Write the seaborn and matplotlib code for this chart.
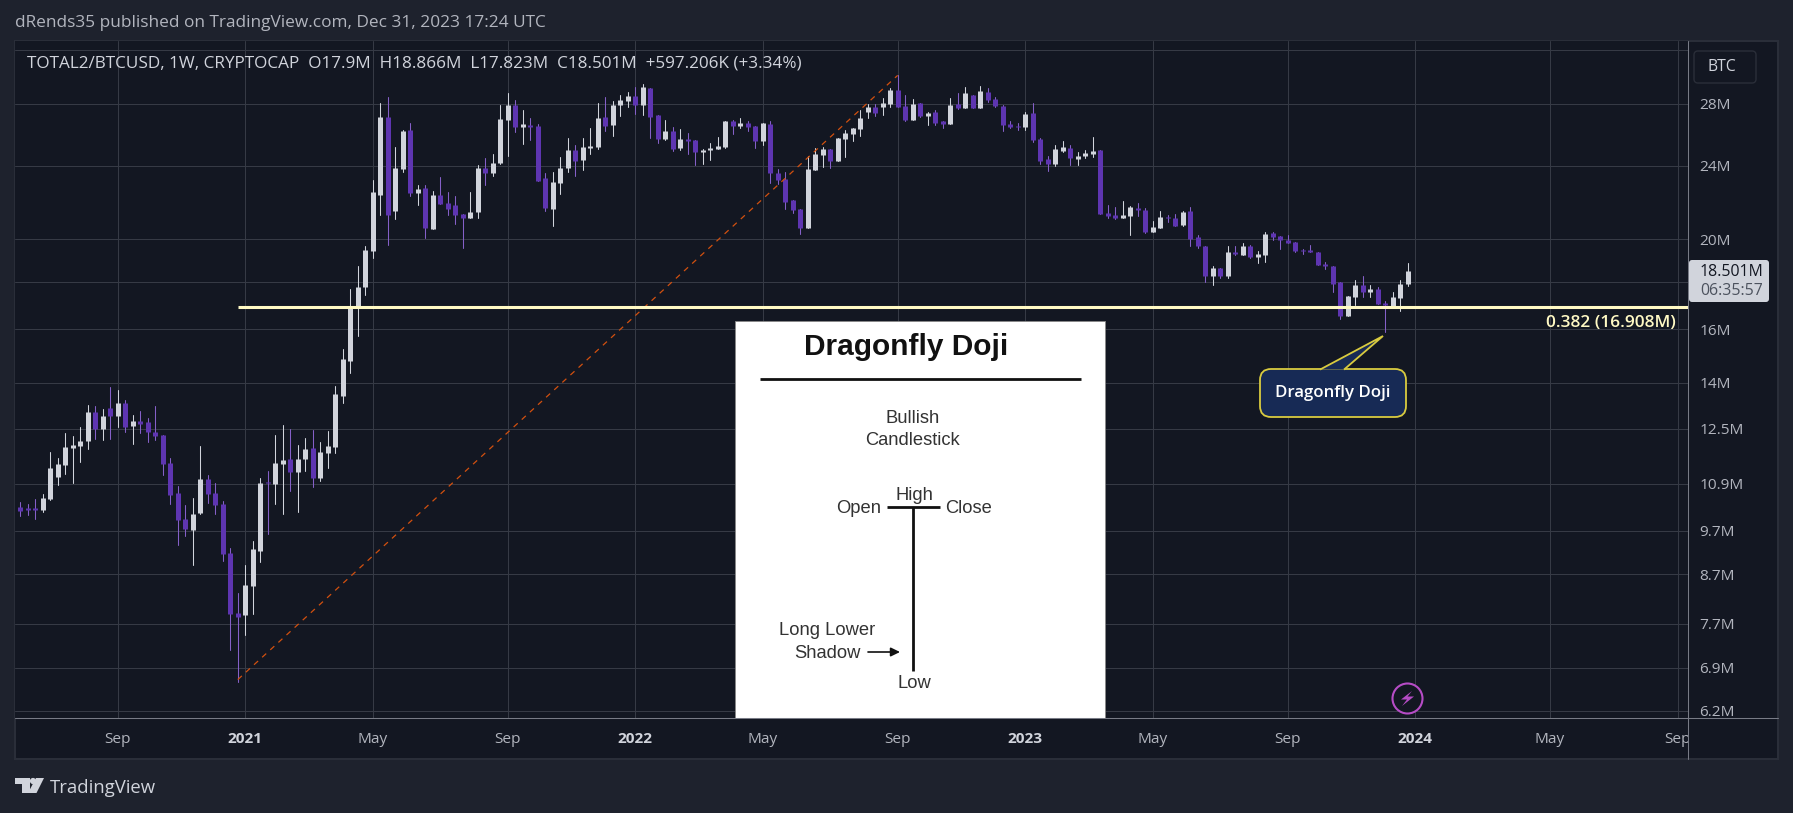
import numpy as np
import pandas as pd
import seaborn as sns
import matplotlib
matplotlib.use("Agg")
import matplotlib.pyplot as plt
from matplotlib.patches import Rectangle, FancyBboxPatch, Polygon, Circle
from matplotlib.ticker import NullLocator, NullFormatter

# ---------- data (millions of BTC, weekly candles) ----------
first_week = "2020-06-08"
opens = [
10.28,10.26,10.26,10.21,10.49,11.08,11.41,11.90,11.96,12.11,
13.01,12.48,13.17,12.89,13.31,12.57,12.73,12.70,12.39,12.30,
11.47,10.65,9.98,9.72,10.13,11.02,10.65,10.36,9.18,7.91,
7.87,8.45,9.22,10.94,10.88,11.44,11.58,11.22,11.58,11.90,
11.05,11.75,11.93,13.54,14.80,16.93,17.75,19.45,22.35,27.12,
21.48,23.84,26.26,22.46,22.74,20.54,22.35,21.91,21.80,21.32,
21.11,21.43,23.89,23.60,24.19,26.92,27.93,26.45,26.59,26.52,
23.31,21.58,23.03,23.89,24.99,24.38,25.12,25.18,27.12,26.59,
27.93,28.21,28.56,27.93,29.13,27.25,25.69,26.20,25.12,25.69,
25.62,24.87,24.99,25.05,25.18,26.85,26.52,26.72,26.52,25.56,
26.65,23.60,23.26,22.08,21.58,20.59,23.78,24.69,25.05,24.32,
25.69,26.00,26.32,27.45,27.79,27.79,28.00,28.99,27.86,26.92,
28.07,27.18,27.45,26.85,26.65,28.00,27.72,28.63,27.72,28.84,
28.35,27.86,26.65,26.52,26.45,27.38,25.69,24.44,24.13,24.93,
25.12,24.44,24.63,24.75,24.99,21.37,21.27,21.11,21.22,21.64,
21.53,20.39,20.59,21.16,21.11,20.75,21.48,20.14,19.69,18.24,
18.61,18.28,19.36,19.26,19.69,19.16,19.26,20.34,20.19,19.99,
19.89,19.50,19.50,19.40,18.83,18.74,17.97,16.55,17.35,17.84,
17.57,17.70,17.09,16.97,17.31,17.90]
highs = [
10.41,10.36,10.49,10.62,11.78,11.61,12.36,12.26,12.54,13.24,
13.21,13.11,13.85,13.75,13.41,12.92,13.05,12.82,13.21,12.30,
11.61,10.83,10.33,10.52,11.96,11.13,10.91,10.44,9.29,8.31,
8.91,9.45,11.05,11.24,12.30,12.60,12.48,11.99,12.20,12.45,
12.08,12.42,13.88,15.25,17.70,18.70,19.69,23.20,28.07,28.49,
25.18,26.26,26.72,22.91,22.91,22.57,23.37,22.52,22.30,21.32,
22.52,24.08,24.50,24.75,27.93,28.77,28.28,27.59,27.05,26.65,
23.60,23.66,24.56,25.75,25.31,25.75,26.39,28.07,28.49,28.21,
28.63,28.84,29.20,29.41,29.13,27.25,26.92,26.45,26.32,26.07,
25.62,25.05,25.43,25.81,26.85,26.92,27.05,26.85,26.52,26.72,
26.85,23.84,23.66,22.08,21.58,24.63,25.12,25.18,25.05,25.75,
26.26,26.39,27.59,28.00,28.00,28.42,29.13,30.06,28.63,28.35,
28.07,27.45,27.59,26.85,28.42,28.77,29.20,28.63,29.27,29.13,
28.49,27.93,26.85,26.72,27.45,28.07,25.75,24.63,25.31,25.56,
25.31,24.87,24.99,25.81,24.99,21.80,21.69,22.02,21.75,21.91,
21.64,20.96,21.48,21.27,21.32,21.48,21.69,20.24,19.69,18.74,
18.61,19.65,19.69,19.84,19.74,19.45,20.39,20.39,20.19,20.24,
19.89,19.55,19.74,19.40,18.93,18.74,17.97,17.39,18.06,18.28,
17.84,17.79,17.18,17.53,18.10,18.866]
lows = [
10.05,10.08,9.98,10.15,10.46,10.86,11.16,10.91,11.50,11.87,
12.17,12.14,12.17,12.54,12.39,12.02,12.36,12.08,12.14,11.13,
10.36,9.36,9.57,8.91,10.10,10.39,10.10,9.00,7.21,6.66,
7.49,7.89,8.97,9.62,10.36,10.10,10.70,10.15,11.24,10.80,
10.97,11.33,11.75,13.31,14.34,15.72,17.44,19.11,21.27,19.74,
21.06,23.66,22.30,21.80,20.09,20.54,21.86,21.27,20.80,19.60,
21.11,21.11,22.91,23.43,24.13,24.63,26.13,25.37,25.62,23.14,
21.48,20.70,22.41,23.66,23.43,23.78,24.75,25.05,26.20,25.87,
27.18,27.79,27.32,27.25,25.75,25.43,25.62,24.93,24.99,24.75,
24.08,24.13,24.38,25.05,25.12,26.00,26.39,26.20,25.12,25.31,
23.03,22.97,21.58,21.37,20.29,20.59,23.78,23.95,23.89,24.32,
24.56,25.56,25.87,27.05,27.18,27.25,27.79,27.79,26.85,26.92,
27.12,26.59,26.59,26.39,26.65,27.65,27.72,27.72,27.72,28.14,
27.79,26.20,26.39,26.26,26.26,25.50,24.13,23.72,24.00,24.87,
24.08,24.08,24.50,24.56,21.32,21.11,21.06,21.11,20.24,21.22,
20.34,20.39,20.59,20.90,20.70,20.70,19.69,19.60,18.01,17.84,
18.19,18.19,19.26,19.26,19.11,18.88,18.93,19.99,19.55,19.84,
19.40,19.31,19.36,18.79,18.56,17.53,16.43,16.55,17.01,17.35,
17.35,17.05,15.87,16.97,16.72,17.823]
closes = [
10.18,10.21,10.21,10.52,11.33,11.44,11.93,11.99,12.11,13.01,
12.48,12.89,12.89,13.31,12.54,12.73,12.63,12.39,12.26,11.44,
10.59,9.96,9.74,10.10,11.02,10.62,10.33,9.15,7.89,7.83,
8.47,9.27,10.91,10.91,11.47,11.55,11.22,11.58,11.87,11.05,
11.78,11.96,13.61,14.84,16.97,17.79,19.50,22.52,27.12,21.27,
23.89,26.20,22.46,22.69,20.59,22.35,21.86,21.58,21.27,21.11,
21.43,23.89,23.60,24.19,26.99,27.93,26.45,26.65,26.45,23.14,
21.64,23.08,23.89,24.99,24.32,25.18,25.24,27.05,26.52,27.93,
28.28,28.56,27.93,29.20,27.12,25.69,26.20,25.05,25.69,25.56,
24.87,24.99,25.12,25.24,26.85,26.52,26.72,26.45,25.56,26.72,
23.60,23.20,21.97,21.53,20.59,23.84,24.75,25.05,24.32,25.75,
26.07,26.39,27.05,27.79,27.38,28.07,28.99,27.79,26.92,28.00,
27.18,27.38,26.72,26.65,27.93,27.72,28.77,27.72,28.91,28.28,
27.86,26.59,26.45,26.45,27.32,25.62,24.32,24.13,25.05,25.18,
24.50,24.63,24.81,24.93,21.32,21.22,21.11,21.27,21.69,21.53,
20.39,20.64,21.16,21.11,20.70,21.43,20.04,19.65,18.24,18.61,
18.28,19.36,19.31,19.69,19.16,19.31,20.29,20.14,19.99,19.84,
19.45,19.45,19.36,18.79,18.70,17.92,16.55,17.39,17.84,17.57,
17.70,17.05,17.01,17.35,17.92,18.501]

fib_level = 16.908
trend_dates = ["2020-12-28", "2022-09-05"]
trend_values = [6.70, 30.06]

price_ticks = [32, 28, 24, 20, 18, 16, 14, 12.5, 10.9, 9.7, 8.7, 7.7, 6.9, 6.2]
price_labels = ["", "28M", "24M", "20M", "", "16M", "14M", "12.5M", "10.9M", "9.7M", "8.7M", "7.7M", "6.9M", "6.2M"]
time_ticks = ["2020-09-07", "2021-01-04", "2021-05-03", "2021-09-06", "2022-01-03", "2022-05-02",
              "2022-09-05", "2023-01-02", "2023-05-01", "2023-09-04", "2024-01-01", "2024-05-06", "2024-09-02"]
time_labels = ["Sep", "2021", "May", "Sep", "2022", "May", "Sep", "2023", "May", "Sep", "2024", "May", "Sep"]

# ---------- style ----------
FRAME, PANE, EDGE, GRID, AXLINE = "#1e222d", "#131722", "#2a2e39", "#363a45", "#787b86"
UP, DOWN, DOWN_W = "#d1d4dc", "#5e35b1", "#8560c8"
FIB, TEXT, DIM = "#fff9c4", "#d1d4dc", "#b2b5be"
W, H = 1793, 813
FONT = "Open Sans"
sns.set_theme(style="dark", rc={"font.family": FONT, "figure.facecolor": FRAME, "axes.facecolor": PANE,
                                "axes.grid": True, "grid.color": GRID, "grid.linewidth": 0.75})

fig = plt.figure(figsize=(W / 100, H / 100), dpi=100, facecolor=FRAME)
def frac(l, t, r, b):
    return [l / W, 1 - b / H, (r - l) / W, (b - t) / H]

bg = fig.add_axes(frac(0, 0, W, H), zorder=0); bg.set_xlim(0, W); bg.set_ylim(H, 0); bg.axis("off")
bg.add_patch(Rectangle((15, 41), 1763, 718, fc=PANE, ec=EDGE, lw=1.5))

# ---------- candles ----------
ax = fig.add_axes(frac(15, 41, 1688, 718), zorder=1)
ax.set_yscale("log")
dates = pd.date_range(first_week, periods=len(opens), freq="7D")
df = pd.DataFrame({"date": dates, "open": opens, "high": highs, "low": lows, "close": closes})
df["dir"] = np.where(df["close"] >= df["open"], "up", "down")

wicks = df.melt(id_vars=["date", "dir"], value_vars=["low", "high"], value_name="price")
bodies = df.melt(id_vars=["date", "dir"], value_vars=["open", "close"], value_name="price")
sns.lineplot(data=wicks, x="date", y="price", hue="dir", units="date", estimator=None, sort=False,
             palette={"up": UP, "down": DOWN_W}, linewidth=0.75, legend=False, ax=ax)
sns.lineplot(data=bodies, x="date", y="price", hue="dir", units="date", estimator=None, sort=False,
             palette={"up": UP, "down": DOWN}, linewidth=3.6, solid_capstyle="butt", legend=False, ax=ax)

# trend line and fib level
trend = pd.DataFrame({"date": pd.to_datetime(trend_dates), "price": trend_values})
sns.lineplot(data=trend, x="date", y="price", color="#d2500f", linewidth=0.9,
             linestyle=(0, (4.4, 4.4)), ax=ax, zorder=4)
x0 = dates[0] - pd.Timedelta(days=5)
x1 = dates[0] + pd.Timedelta(days=7 * 222.4)
fib = pd.DataFrame({"date": [dates[29], x1], "price": [fib_level, fib_level]})
sns.lineplot(data=fib, x="date", y="price", color=FIB, linewidth=2.2, solid_capstyle="butt", ax=ax, zorder=5)

ax.set_xlim(x0, x1)
ax.set_ylim(6.09, 32.74)
ax.set_axisbelow(True)
ax.set_xlabel(""); ax.set_ylabel("")
for s in ax.spines.values():
    s.set_visible(False)
ax.yaxis.set_minor_locator(NullLocator())
ax.yaxis.set_minor_formatter(NullFormatter())
ax.yaxis.tick_right()
ax.set_yticks(price_ticks); ax.set_yticklabels(price_labels)
ax.set_xticks(pd.to_datetime(time_ticks)); ax.set_xticklabels(time_labels)
ax.tick_params(axis="y", length=0, pad=8, labelsize=11.1, labelcolor=DIM)
ax.tick_params(axis="x", length=0, pad=10, labelsize=11.1, labelcolor=DIM)
ax.grid(True, color=GRID, linewidth=0.75)
for lab in ax.get_xticklabels():
    if lab.get_text().isdigit():
        lab.set_fontweight("bold"); lab.set_color(TEXT)

# ---------- overlay, in pixel coordinates ----------
ov = fig.add_axes(frac(0, 0, W, H), zorder=2); ov.set_xlim(0, W); ov.set_ylim(H, 0); ov.axis("off")
ov.patch.set_alpha(0)

# header and legend
ov.text(15, 23, "dRends35 published on TradingView.com, Dec 31, 2023 17:24 UTC", color=DIM, fontsize=12.4,
        va="center", family=FONT)
ov.text(27, 63, "TOTAL2/BTCUSD, 1W, CRYPTOCAP  O17.9M  H18.866M  L17.823M  C18.501M  +597.206K (+3.34%)",
        color=TEXT, fontsize=12.35, va="center")

# inset picture
ov.add_patch(Rectangle((735, 321), 370, 397, fc="white", ec="#888888", lw=0.6, zorder=3))
ARIAL = "Liberation Sans"
INK = "#333333"
def ink(x, y, s, size=13.2, **k):
    ov.text(x, y, s, family=ARIAL, fontsize=size, color=k.pop("color", INK), ha="center", va="center", zorder=4, **k)
ink(906, 347, "Dragonfly Doji", size=21.5, weight="bold", color="#111111")
ov.plot([760, 1081], [379, 379], color="#111111", lw=2, zorder=4, solid_capstyle="butt")
ink(913, 418, "Bullish"); ink(913, 440, "Candlestick")
ov.plot([887, 940], [507, 507], color="#111111", lw=2, zorder=4, solid_capstyle="butt")
ov.plot([913, 913], [507, 671], color="#111111", lw=2, zorder=4, solid_capstyle="butt")
ink(914, 495, "High"); ink(859, 508, "Open"); ink(969, 508, "Close")
ink(827, 630, "Long Lower"); ink(827, 653, "Shadow"); ink(914, 683, "Low")
ov.annotate("", xy=(900, 652), xytext=(868, 652), zorder=4,
            arrowprops=dict(arrowstyle="-|>,head_width=0.22,head_length=0.45", color="#111111", lw=1.2,
                            shrinkA=0, shrinkB=0))

# fib label and callout
ov.text(1676, 323, "0.382 (16.908M)", color=FIB, fontsize=12.4, ha="right", va="center", weight="semibold", zorder=5)
CALL = "#d9cb3f"
ov.add_patch(FancyBboxPatch((1260, 369), 146, 48, boxstyle="round,pad=0,rounding_size=11",
                            fc="#172a55", ec=CALL, lw=1.3, zorder=5))
ov.add_patch(Polygon([(1320, 369.6), (1383, 336), (1344, 369.6)], closed=False, fc="#172a55", ec=CALL, lw=1.3, zorder=6))
ov.text(1333, 393, "Dragonfly Doji", color="white", fontsize=12.1, ha="center", va="center", weight="semibold", zorder=7)

# frame lines of the price and time scales
ov.add_patch(Rectangle((1689, 719), 88, 39, fc=PANE, ec="none", zorder=2))
ov.plot([15, 1778], [718, 718], color=AXLINE, lw=0.75, zorder=3)
ov.plot([1688, 1688], [41, 759], color=AXLINE, lw=0.75, zorder=3)

# last price tag
ov.add_patch(FancyBboxPatch((1689, 260), 80, 42, boxstyle="round,pad=0,rounding_size=3", fc=UP, ec="none", zorder=5))
ov.text(1700, 272, "18.501M", color=PANE, fontsize=11.4, va="center", zorder=6)
ov.text(1700, 291, "06:35:57", color="#4c525e", fontsize=11.4, va="center", zorder=6)

# BTC button
ov.add_patch(FancyBboxPatch((1694, 51), 62, 32, boxstyle="round,pad=0,rounding_size=4", fc=PANE, ec=EDGE, lw=1, zorder=5))
ov.text(1722, 67, "BTC", color=TEXT, fontsize=11.3, ha="center", va="center", zorder=6)

# lightning mark
BOLT = "#b64cc6"
ov.add_patch(Circle((1407.5, 698.5), 15, fc=PANE, ec=BOLT, lw=1.5, zorder=5))
ov.add_patch(Polygon([(1412, 691), (1401, 699.5), (1407, 699.5), (1402, 706), (1414, 696.5), (1407.5, 696.5)],
                     fc=BOLT, ec="none", zorder=6))

# TradingView logo
LOGO = "#d1d4dc"
ov.add_patch(Polygon([(15, 778), (30, 778), (30, 793), (21.5, 793), (21.5, 784), (15, 784)], fc=LOGO, ec="none"))
ov.add_patch(Circle((33, 781), 3.1, fc=LOGO, ec="none"))
ov.add_patch(Polygon([(36, 778), (44, 778), (36.5, 793), (28, 793)], fc=LOGO, ec="none"))
ov.text(50, 788, "TradingView", color=LOGO, fontsize=13.3, va="center")

fig.savefig("out.png", dpi=100, facecolor=FRAME)
